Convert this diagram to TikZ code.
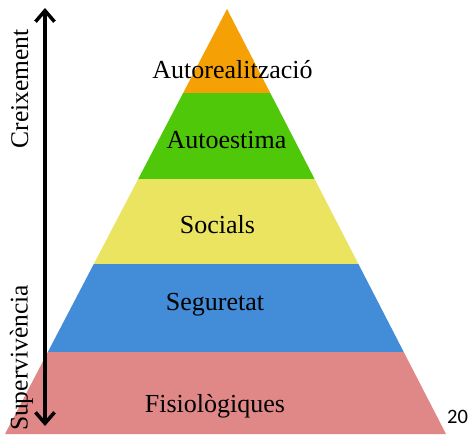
\documentclass[tikz,border=0pt]{standalone}
\usepackage{fontspec}
\setmainfont{Liberation Serif}
\newfontfamily\numfont{Carlito}
\usetikzlibrary{arrows.meta}
\definecolor{lvA}{RGB}{245,160,5}
\definecolor{lvB}{RGB}{80,200,10}
\definecolor{lvC}{RGB}{234,228,96}
\definecolor{lvD}{RGB}{66,140,216}
\definecolor{lvE}{RGB}{224,136,136}
\tikzset{
  lbl/.style={font=\fontsize{26}{30}\selectfont, anchor=base, inner sep=0pt},
  side/.style={font=\fontsize{25.5}{30}\selectfont, anchor=base, inner sep=0pt, rotate=90},
  growarrow/.style={line width=3.5pt, {Straight Barb[length=11pt,width=19pt]}-{Straight Barb[length=11pt,width=19pt]}}
}
\begin{document}
\begin{tikzpicture}[x=1pt,y=-1pt]
\useasboundingbox (0,0) rectangle (471,434);
\fill[white] (0,0) rectangle (471,434);
\coordinate (apex) at (227,9);
\coordinate (bl) at (5,434);
\coordinate (br) at (446,434);
\begin{scope}
\clip (apex) -- (bl) -- (br) -- cycle;
\fill[lvA] (0,0) rectangle (471,93);
\fill[lvB] (0,93) rectangle (471,179);
\fill[lvC] (0,179) rectangle (471,264);
\fill[lvD] (0,264) rectangle (471,352);
\fill[lvE] (0,352) rectangle (471,440);
\end{scope}
\node[lbl] (l1) at (232.5,78) {Autorealització};
\node[lbl] (l2) at (226.5,148) {Autoestima};
\node[lbl] (l3) at (217.5,233) {Socials};
\node[lbl] (l4) at (215,310) {Seguretat};
\node[lbl] (l5) at (215,412) {Fisiològiques};
\node[anchor=base, inner sep=0pt, font=\numfont\fontsize{20.5}{24}\selectfont] (pg) at (457.5,423) {20};
\coordinate (atop) at (45,8);
\coordinate (abot) at (45,426);
\draw[growarrow] (abot) -- (atop);
\node[side] (s1) at (28,89) {Creixement};
\node[side] (s2) at (27.5,358) {Supervivència};
\end{tikzpicture}
\end{document}
